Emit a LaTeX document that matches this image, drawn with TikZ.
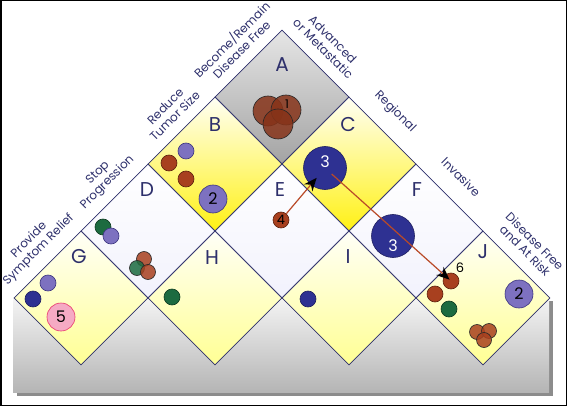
\documentclass[tikz,border=0pt]{standalone}
\usepackage{fontspec}
\setmainfont{Poppins}
\usepackage{xcolor}
\usepackage{tikz}
\usetikzlibrary{arrows.meta, positioning, shapes.geometric, shadows}

\definecolor{edgenavy}{HTML}{2D2F6B}
\definecolor{rustfill}{HTML}{A8401F}
\definecolor{rustline}{HTML}{5E220E}
\definecolor{lilacfill}{HTML}{7D71C0}
\definecolor{lilacline}{HTML}{3C3580}
\definecolor{navyfill}{HTML}{2E3192}
\definecolor{navyline}{HTML}{1E1F60}
\definecolor{leaffill}{HTML}{1C6B40}
\definecolor{leafline}{HTML}{0D3A20}
\definecolor{rosefill}{HTML}{F5AAC4}
\definecolor{roseline}{HTML}{E9386E}
\definecolor{flowred}{HTML}{B94A28}

\begin{document}
\begin{tikzpicture}[x=1pt, y=1pt,
            cell/.style={diamond, draw=edgenavy, line width=.8pt, minimum width=134pt, minimum height=134pt, inner sep=0pt},
            grey cell/.style={cell, top color=gray!20, bottom color=gray!72},
            gold cell/.style={cell, top color=yellow!4, bottom color=yellow!88!orange!92!white},
            pale cell/.style={cell, top color=white, bottom color=gray!32!blue!6!white},
            cream cell/.style={cell, top color=yellow!3, bottom color=yellow!42!white},
            letter/.style={text=edgenavy, font=\fontsize{20}{20}\selectfont, inner sep=0pt},
            side/.style={text=edgenavy, font=\fontsize{12}{13.5}\selectfont, align=center, inner sep=0pt},
            dot/.style={circle, inner sep=0pt, minimum size=16pt, line width=.6pt},
            big/.style={minimum size=28pt},
            huge/.style={minimum size=43pt},
            rust/.style={dot, fill=rustfill, draw=rustline},
            lilac/.style={dot, fill=lilacfill, draw=lilacline},
            navydot/.style={dot, fill=navyfill, draw=navyline},
            leaf/.style={dot, fill=leaffill, draw=leafline},
            rose/.style={dot, fill=rosefill, draw=roseline},
            clump/.style={fill opacity=.85, draw=black!85},
            num/.style={font=\fontsize{16}{16}\selectfont, inner sep=0pt},
            small num/.style={num, font=\fontsize{13}{13}\selectfont},
            flow/.style={draw=flowred, line width=1.2pt, -{Stealth[color=black, length=13pt, width=11pt]}}]
            \useasboundingbox (0,0) rectangle (567,-406);

            \fill[top color=gray!8, bottom color=gray!58, drop shadow={shadow xshift=4pt, shadow yshift=-4pt, opacity=.45, fill=black}] (13,-297) rectangle (549,-392);

            \node[grey cell] (A) at (282,-97) {};
            \node[gold cell] (B) at (215,-164) {};
            \node[gold cell] (C) at (349,-164) {};
            \node[pale cell] (D) at (148,-231) {};
            \node[pale cell] (E) at (282,-231) {};
            \node[pale cell] (F) at (416,-231) {};
            \node[cream cell] (G) at (81,-298) {};
            \node[cream cell] (H) at (215,-298) {};
            \node[cream cell] (I) at (349,-298) {};
            \node[cream cell] (J) at (483,-298) {};

            \node[letter] (lA) at (282,-65) {A};
            \node[letter] (lB) at (215,-125) {B};
            \node[letter] (lC) at (348,-125) {C};
            \node[letter] (lD) at (147,-190) {D};
            \node[letter] (lE) at (280,-190) {E};
            \node[letter] (lF) at (417,-190) {F};
            \node[letter] (lG) at (79,-257) {G};
            \node[letter] (lH) at (212,-258) {H};
            \node[letter] (lI) at (348,-257) {I};
            \node[letter] (lJ) at (483,-252) {J};

            \node[side, rotate=45] (sG) at (34,-245) {Provide\\Symptom Relief};
            \node[side, rotate=45] (sD) at (103,-178) {Stop\\Progression};
            \node[side, rotate=45] (sB) at (170,-111) {Reduce\\Tumor Size};
            \node[side, rotate=45] (sA) at (236,-44) {Become/Remain\\Disease Free};
            \node[side, rotate=-45] (sM) at (328,-44) {Advanced\\or Metastatic};
            \node[side, rotate=-45] (sC) at (395,-112) {Regional};
            \node[side, rotate=-45] (sF) at (461,-177) {Invasive};
            \node[side, rotate=-45] (sJ) at (530,-246) {Disease Free\\and At Risk};

            \node[rust, clump, fill=rustfill!80!black, minimum size=30pt] (a1) at (268,-111) {};
            \node[rust, clump, fill=rustfill!80!black, minimum size=30pt] (a2) at (286,-110) {};
            \node[rust, clump, fill=rustfill!80!black, minimum size=30pt] (a3) at (278,-124) {};
            \node[num, font=\fontsize{12}{12}\selectfont] (n1) at (287,-104) {1};

            \node[lilac] (b1) at (186,-151) {};
            \node[rust] (b2) at (169,-163) {};
            \node[rust] (b3) at (186,-179) {};
            \node[lilac, big] (b4) at (213,-199) {};
            \node[num] (n2) at (b4) {2};

            \node[navydot, huge] (c3) at (325,-168) {};
            \node[num, text=white] (n3) at (325,-162) {3};

            \node[leaf] (d1) at (103,-227) {};
            \node[lilac] (d2) at (111,-236) {};
            \node[rust, clump, minimum size=15pt] (d3) at (144,-259) {};
            \node[leaf, clump, minimum size=15pt] (d4) at (137,-268) {};
            \node[rust, clump, minimum size=15pt] (d5) at (148,-272) {};

            \node[rust] (e4) at (281,-220) {};
            \node[small num] (n4) at (e4) {4};

            \node[navydot, huge] (f3) at (393,-236) {};
            \node[num, text=white] (n5) at (393,-246) {3};

            \node[lilac] (g1) at (48,-283) {};
            \node[navydot] (g2) at (33,-299) {};
            \node[rose, big] (g5) at (61,-317) {};
            \node[num] (n6) at (g5) {5};

            \node[leaf] (h1) at (172,-297) {};
            \node[navydot] (i1) at (308,-299) {};

            \node[rust] (j6) at (451,-281) {};
            \node[small num] (n7) at (460,-268) {6};
            \node[rust] (j2) at (435,-294) {};
            \node[leaf] (j3) at (449,-309) {};
            \node[lilac, big] (j4) at (519,-294) {};
            \node[num] (n8) at (j4) {2};
            \node[rust, clump, minimum size=15pt] (j5) at (477,-332) {};
            \node[rust, clump, minimum size=15pt] (j7) at (489,-331) {};
            \node[rust, clump, minimum size=15pt] (j8) at (484,-340) {};

            \draw[flow, shorten >=13pt] (e4) -- (c3.center);
            \draw[flow, shorten <=9pt, shorten >=2pt] (c3.center) -- (j6.center);

            \draw[line width=1.5pt] (.75,-.75) rectangle (566.25,-405.25);
        \end{tikzpicture}
\end{document}
